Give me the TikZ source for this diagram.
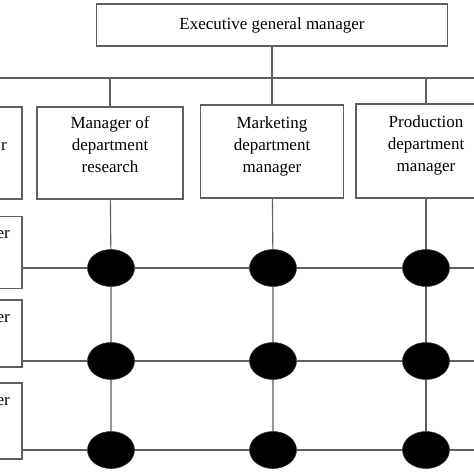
\documentclass[tikz,border=0pt]{standalone}
\usepackage{fontspec}
\setmainfont{Liberation Serif}
\usetikzlibrary{shapes.geometric}
\definecolor{linegray}{RGB}{95,95,95}
\begin{document}
\begin{tikzpicture}[x=1pt,y=-1pt,
  ln/.style={draw=linegray, line width=1.1pt},
  box/.style={draw=linegray, line width=1.1pt, fill=white, rectangle, inner sep=0pt},
  txt/.style={font=\fontsize{17}{22}\selectfont, align=center, inner sep=0pt},
  dot/.style={ellipse, fill=black, draw=black!80, line width=0.6pt, minimum width=47pt, minimum height=37pt, inner sep=0pt}]
\useasboundingbox (0,0) rectangle (474,474);
\clip (0,0) rectangle (474,474);
\coordinate (busL) at (0,78);
\coordinate (busR) at (474,78);
% top box
\node[box, txt, minimum width=351pt, minimum height=42pt] (ceo) at (272,25) {Executive general manager};
% department boxes
\node[box, minimum width=146pt, minimum height=92pt] (d0) at (-51,153) {};
\node[box, minimum width=146pt, minimum height=92pt] (d1) at (110,153) {};
\node[box, minimum width=143pt, minimum height=93pt] (d2) at (272,151.5) {};
\node[box, minimum width=140pt, minimum height=94pt] (d3) at (426,151) {};
\node[txt] (t0) at (-51,145) {};
\node[txt, anchor=base east] (t0r) at (7,150) {r};
\node[txt] (t1) at (110,144.5) {Manager of\\department\\research};
\node[txt] (t2) at (272,146) {Marketing\\department\\manager};
\node[txt] (t3) at (426,145.5) {Production\\department\\manager};
% row boxes
\node[box, minimum width=146pt, minimum height=72pt] (r1) at (-51,252.5) {};
\node[box, minimum width=146pt, minimum height=67pt] (r2) at (-51,333.5) {};
\node[box, minimum width=146pt, minimum height=76pt] (r3) at (-51,421) {};
\node[txt, anchor=base east] (r1t) at (10,238) {er};
\node[txt, anchor=base east] (r2t) at (10,322) {er};
\node[txt, anchor=base east] (r3t) at (10,405) {er};
% matrix dots
\node[dot] (e11) at (111,268) {};
\node[dot] (e12) at (273,268) {};
\node[dot] (e13) at (426,268) {};
\node[dot] (e21) at (111,361) {};
\node[dot] (e22) at (273,361) {};
\node[dot] (e23) at (426,361) {};
\node[dot] (e31) at (111,450) {};
\node[dot] (e32) at (273,450) {};
\node[dot] (e33) at (426,450) {};
% connectors
\draw[ln] (ceo) -- (ceo |- busL);
\draw[ln] (busL) -- (busR);
\draw[ln] (d0 |- busL) -- (d0);
\draw[ln] (d1 |- busL) -- (d1);
\draw[ln] (d2 |- busL) -- (d2);
\draw[ln] (d3 |- busL) -- (d3);
\draw[ln] (d1) -- (e11) -- (e21) -- (e31);
\draw[ln] (d2) -- (e12) -- (e22) -- (e32);
\draw[ln] (d3) -- (e13) -- (e23) -- (e33);
\draw[ln] (r1.east |- e11.center) -- (e11) -- (e12) -- (e13) -- (e13 -| busR);
\draw[ln] (r2.east |- e21.center) -- (e21) -- (e22) -- (e23) -- (e23 -| busR);
\draw[ln] (r3.east |- e31.center) -- (e31) -- (e32) -- (e33) -- (e33 -| busR);
\end{tikzpicture}
\end{document}
